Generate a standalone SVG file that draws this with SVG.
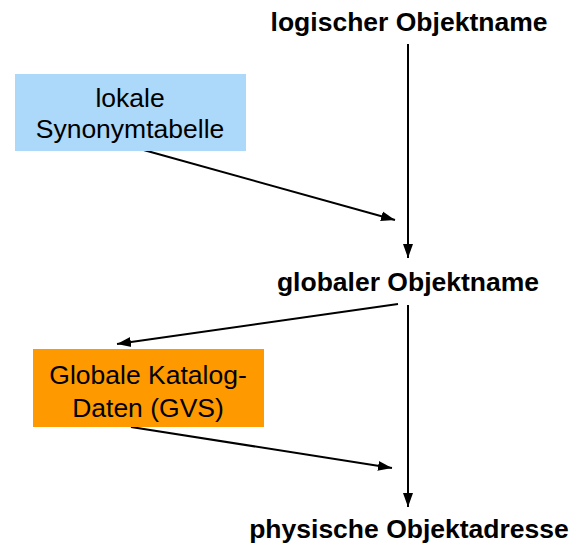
<svg xmlns="http://www.w3.org/2000/svg" width="586" height="546" viewBox="0 0 586 546">
<style>
.t{font-family:"Liberation Sans",Arial,sans-serif;font-size:26.5px;fill:#000;text-anchor:middle}
.b{font-weight:bold}
.c{stroke:#000;stroke-width:2;fill:none;marker-end:url(#ah)}
</style>
<defs>
<marker id="ah" markerUnits="userSpaceOnUse" markerWidth="16" markerHeight="12" refX="14" refY="6" orient="auto">
<path d="M0,1 L14,6 L0,11 Z" fill="#000"/>
</marker>
</defs>
<rect width="586" height="546" fill="#fff"/>
<g id="connectors">
<line class="c" x1="408" y1="44" x2="408" y2="258"/>
<line class="c" x1="140" y1="149" x2="395" y2="220"/>
<line class="c" x1="398" y1="304" x2="117" y2="344"/>
<line class="c" x1="408" y1="305" x2="408" y2="507"/>
<line class="c" x1="131" y1="427" x2="392" y2="468"/>
</g>
<g id="logischer">
<text class="t b" x="409" y="31">logischer Objektname</text>
</g>
<g id="lokale">
<rect x="15" y="74" width="231" height="77" fill="#ACD8F9"/>
<text class="t" x="130" y="107">lokale</text>
<text class="t" x="130" y="138">Synonymtabelle</text>
</g>
<g id="globaler">
<text class="t b" x="408" y="291">globaler Objektname</text>
</g>
<g id="katalog">
<rect x="33" y="349" width="231" height="78" fill="#FF9900"/>
<text class="t" x="148" y="384">Globale Katalog-</text>
<text class="t" x="148" y="417">Daten (GVS)</text>
</g>
<g id="physische">
<text class="t b" x="409" y="538">physische Objektadresse</text>
</g>
</svg>
